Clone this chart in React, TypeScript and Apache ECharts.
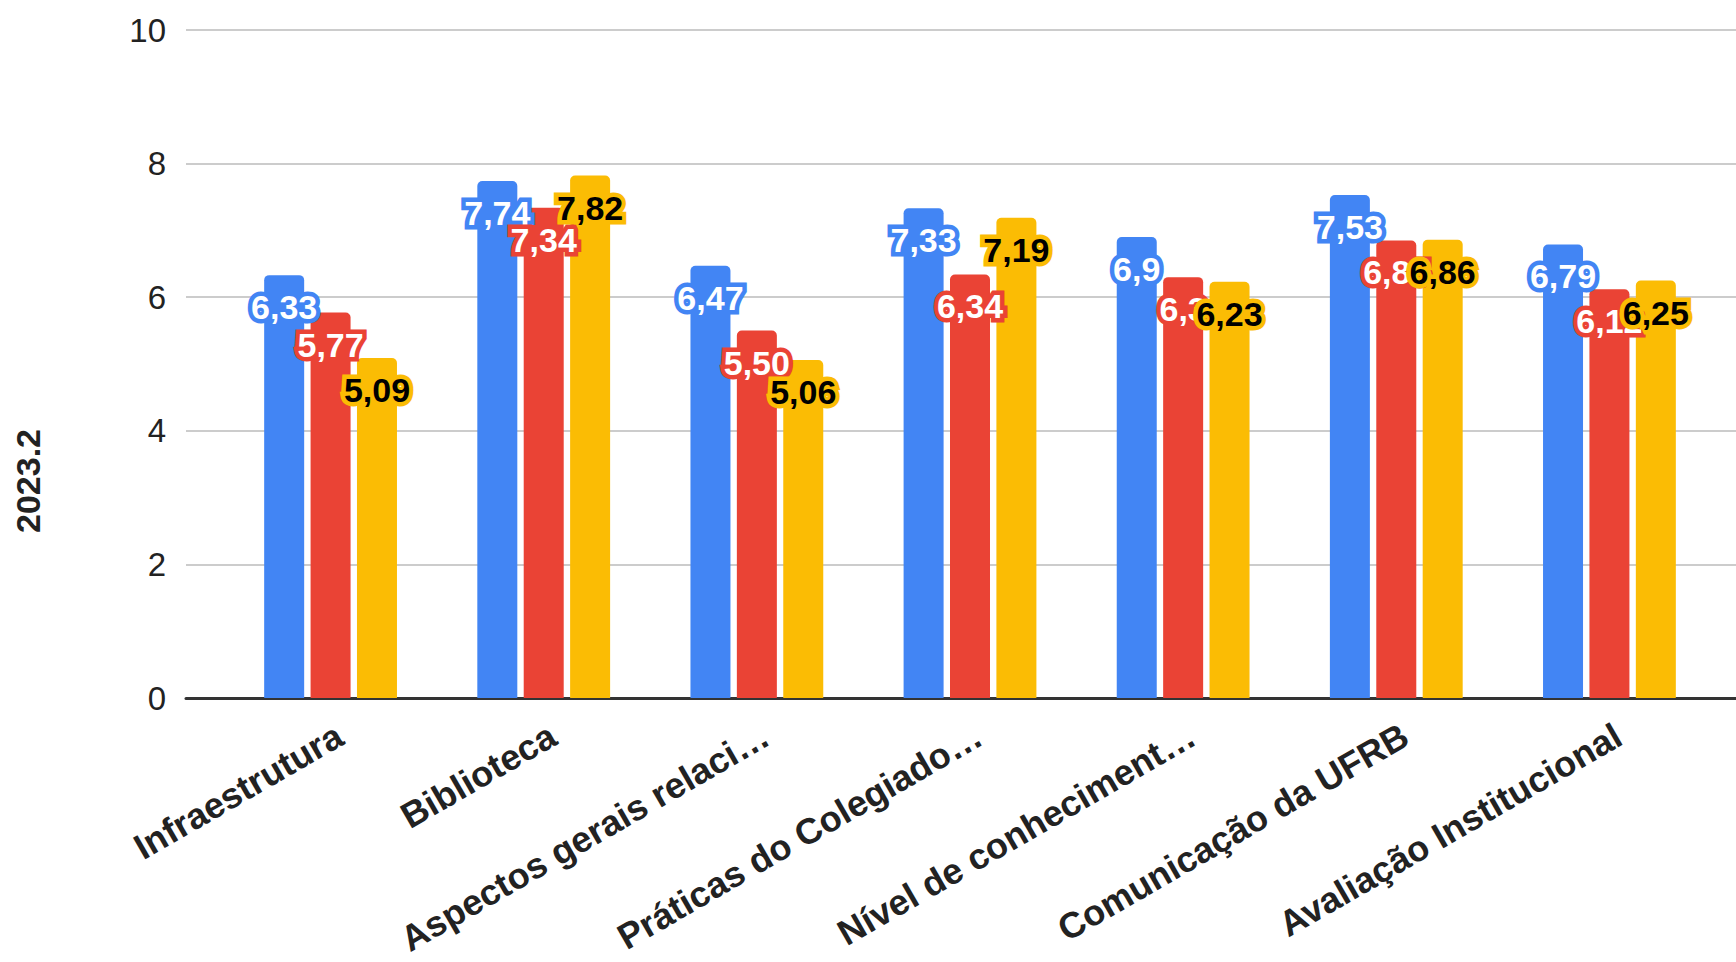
import React, { useEffect, useRef } from "react";
import * as echarts from "echarts";

const categories = [
  "Infraestrutura",
  "Biblioteca",
  "Aspectos gerais relaci…",
  "Práticas do Colegiado…",
  "Nível de conheciment…",
  "Comunicação da UFRB",
  "Avaliação Institucional",
];
const blueValues = [6.33, 7.74, 6.47, 7.33, 6.9, 7.53, 6.79];
const redValues = [5.77, 7.34, 5.5, 6.34, 6.3, 6.85, 6.12];
const yellowValues = [5.09, 7.82, 5.06, 7.19, 6.23, 6.86, 6.25];
const blueLabels = ["6,33", "7,74", "6,47", "7,33", "6,9", "7,53", "6,79"];
const redLabels = ["5,77", "7,34", "5,50", "6,34", "6,3", "6,85", "6,12"];
const yellowLabels = ["5,09", "7,82", "5,06", "7,19", "6,23", "6,86", "6,25"];
const yTicks = [0, 2, 4, 6, 8, 10];
const yAxisTitle = "2023.2";

const FONT = "'Liberation Sans', Arial, sans-serif";
const BLUE = "#4285F4";
const RED = "#EA4335";
const YELLOW = "#FBBC04";

function makeSeries(name: string, values: number[], labels: string[], color: string, textColor: string) {
  return {
    name,
    type: "bar",
    xAxisIndex: 0,
    yAxisIndex: 0,
    data: values,
    barWidth: 40,
    barGap: "16%",
    itemStyle: { color, borderRadius: [5, 5, 0, 0] },
    label: {
      show: true,
      position: "insideTop",
      distance: 15,
      formatter: (p: any) => labels[p.dataIndex],
      color: textColor,
      fontFamily: FONT,
      fontWeight: "bold",
      fontSize: 34,
      textBorderColor: color,
      textBorderWidth: 9,
    },
  };
}

export default function App() {
  const ref = useRef<HTMLDivElement>(null);
  useEffect(() => {
    if (!ref.current) return;
    const chart = echarts.init(ref.current, null, { renderer: "svg" });
    const yMin = yTicks[0];
    const yMax = yTicks[yTicks.length - 1];
    const yStep = yTicks[1] - yTicks[0];
    chart.setOption({
      animation: false,
      backgroundColor: "#ffffff",
      grid: [
        { left: 224, right: 20, top: 30, bottom: 264 },
        { left: 186, right: 0, top: 30, bottom: 264 },
      ],
      xAxis: [
        {
          type: "category",
          gridIndex: 0,
          data: categories,
          axisLine: { show: false },
          axisTick: { show: false },
          axisLabel: {
            interval: 0,
            rotate: 30,
            margin: 19,
            verticalAlign: "top",
            color: "#222222",
            fontFamily: FONT,
            fontWeight: "bold",
            fontSize: 36,
          },
        },
        {
          type: "category",
          gridIndex: 1,
          data: [""],
          axisLine: { show: true, lineStyle: { color: "#333333", width: 3 } },
          axisTick: { show: false },
          axisLabel: { show: false },
          z: 0,
        },
      ],
      yAxis: [
        {
          type: "value",
          gridIndex: 0,
          min: yMin,
          max: yMax,
          interval: yStep,
          show: false,
          splitLine: { show: false },
        },
        {
          type: "value",
          gridIndex: 1,
          min: yMin,
          max: yMax,
          interval: yStep,
          axisLine: { show: false },
          axisTick: { show: false },
          axisLabel: {
            margin: 20,
            color: "#222222",
            fontFamily: FONT,
            fontSize: 33,
          },
          splitLine: { show: true, lineStyle: { color: "#cccccc", width: 2 } },
        },
      ],
      graphic: [
        {
          type: "text",
          left: 11,
          top: "middle",
          rotation: Math.PI / 2,
          style: {
            text: yAxisTitle,
            fill: "#222222",
            font: `bold 34px ${FONT}`,
          },
        },
      ],
      series: [
        makeSeries("s1", blueValues, blueLabels, BLUE, "#ffffff"),
        makeSeries("s2", redValues, redLabels, RED, "#ffffff"),
        makeSeries("s3", yellowValues, yellowLabels, YELLOW, "#000000"),
      ],
    });
    return () => chart.dispose();
  }, []);
  return (
    <div
      ref={ref}
      style={{ position: "fixed", left: 0, top: 0, width: 1736, height: 962 }}
    />
  );
}
